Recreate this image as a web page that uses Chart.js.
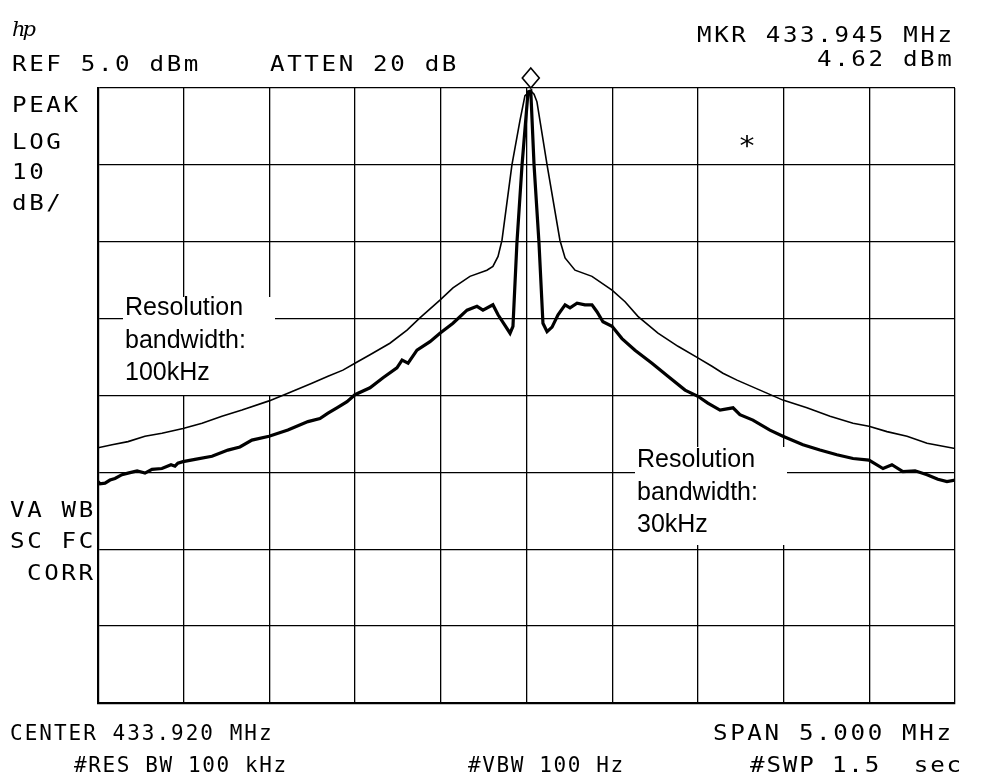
<!DOCTYPE html>
<html>
<head>
<meta charset="utf-8">
<script src="https://cdn.jsdelivr.net/npm/chart.js@4.4.1/dist/chart.umd.min.js"></script>
<style>
  html, body { margin: 0; padding: 0; background: #fff; }
  #wrap { position: relative; width: 981px; height: 783px; overflow: hidden; }
  #wrap canvas { position: absolute; left: 0; top: 0; }
  .t {
    position: absolute; font-family: "DejaVu Sans Mono", monospace; font-size: 21px;
    line-height: 21px; letter-spacing: 2.3px; color: #000; white-space: pre;
    transform: scaleX(1.15); transform-origin: 0 0;
  }
  .s { transform: none; letter-spacing: 1.6px; }
  .box { position: absolute; background: #fff; }
  .note {
    position: absolute; font-family: "Liberation Sans", Arial, sans-serif; font-size: 25px;
    line-height: 32.5px; color: #000; white-space: pre;
  }
</style>
</head>
<body>
<div id="wrap">
  <canvas id="spectrum"></canvas>

  <div class="t" style="left:12px;top:19px;font-family:'DejaVu Serif';font-style:italic;letter-spacing:-3px;font-size:21px;transform:none">hp</div>
  <div class="t" style="left:12px;top:54px">REF 5.0 dBm</div>
  <div class="t" style="left:270px;top:54px">ATTEN 20 dB</div>
  <div class="t" style="left:697px;top:25px">MKR 433.945 MHz</div>
  <div class="t" style="left:817px;top:49px">4.62 dBm</div>
  <div class="t" style="left:12px;top:95px">PEAK</div>
  <div class="t" style="left:12px;top:132px">LOG</div>
  <div class="t" style="left:12px;top:162px">10</div>
  <div class="t" style="left:12px;top:193px">dB/</div>
  <div class="t" style="left:10px;top:500px">VA WB</div>
  <div class="t" style="left:10px;top:531px">SC FC</div>
  <div class="t" style="left:27px;top:563px">CORR</div>
  <div class="t s" style="left:10px;top:723px;letter-spacing:2px">CENTER 433.920 MHz</div>
  <div class="t s" style="left:74px;top:755px">#RES BW 100 kHz</div>
  <div class="t s" style="left:468px;top:755px">#VBW 100 Hz</div>
  <div class="t" style="left:713px;top:723px">SPAN 5.000 MHz</div>
  <div class="t" style="left:750px;top:755px;letter-spacing:1.6px">#SWP 1.5  sec</div>
  <div class="t" style="left:738px;top:136px;font-size:26px">*</div>

  <div class="box" style="left:123px;top:297px;width:152px;height:98px"></div>
  <div class="note" style="left:125px;top:290px">Resolution
bandwidth:
100kHz</div>
  <div class="box" style="left:635px;top:447px;width:152px;height:98px"></div>
  <div class="note" style="left:637px;top:442px">Resolution
bandwidth:
30kHz</div>
</div>

<script>
// frequency axis (MHz): center 433.920, span 5 MHz, 10 divisions
const xTicks = [431.42, 431.92, 432.42, 432.92, 433.42, 433.92, 434.42, 434.92, 435.42, 435.92, 436.42];
// level axis (dBm): ref 5.0 dBm, 10 dB/div, 8 divisions
const yTicks = [-75, -65, -55, -45, -35, -25, -15, -5, 5];

// marker
const markerFreq = 433.945;
const markerLevel = 4.62;

// trace with 100 kHz resolution bandwidth
const rbw100Freq = [
  431.420, 431.502, 431.595, 431.694, 431.793, 431.916, 432.027, 432.143, 432.260, 432.418,
  432.528, 432.668, 432.762, 432.849, 432.919, 433.007, 433.123, 433.223, 433.298, 433.415,
  433.491, 433.590, 433.689, 433.724, 433.754, 433.777, 433.835, 433.882, 433.911, 433.945,
  433.964, 433.981, 434.040, 434.115, 434.145, 434.203, 434.302, 434.419, 434.495, 434.570,
  434.687, 434.804, 434.920, 435.002, 435.066, 435.148, 435.282, 435.416, 435.556, 435.691,
  435.825, 435.918, 436.023, 436.140, 436.257, 436.420
];
const rbw100Level = [
  -41.8, -41.4, -41.0, -40.3, -39.9, -39.3, -38.6, -37.7, -36.9, -35.7,
  -34.7, -33.4, -32.5, -31.7, -30.8, -29.7, -28.2, -26.5, -24.9, -22.6,
  -21.0, -19.5, -18.7, -18.2, -16.9, -14.8, -5.0, 0.8, 4.0, 4.62,
  4.2, 3.2, -5.0, -14.8, -17.1, -18.7, -19.5, -21.3, -22.8, -24.7,
  -26.9, -28.6, -30.1, -31.2, -32.1, -33.0, -34.3, -35.6, -36.6, -37.7,
  -38.6, -39.0, -39.7, -40.3, -41.2, -41.9
];

// trace with 30 kHz resolution bandwidth
const rbw30Freq = [
  431.420, 431.432, 431.461, 431.490, 431.519, 431.560, 431.595, 431.648, 431.694, 431.735,
  431.793, 431.846, 431.869, 431.886, 431.916, 431.986, 432.085, 432.178, 432.248, 432.318,
  432.418, 432.528, 432.645, 432.715, 432.762, 432.814, 432.873, 432.919, 433.007, 433.083,
  433.164, 433.194, 433.229, 433.281, 433.357, 433.415, 433.491, 433.573, 433.631, 433.666,
  433.724, 433.754, 433.824, 433.841, 433.864, 433.894, 433.929, 433.945, 433.964, 433.993,
  434.016, 434.040, 434.069, 434.104, 434.145, 434.174, 434.215, 434.261, 434.302, 434.331,
  434.366, 434.419, 434.477, 434.553, 434.652, 434.745, 434.845, 434.920, 434.978, 435.049,
  435.125, 435.165, 435.241, 435.340, 435.416, 435.533, 435.632, 435.731, 435.825, 435.918,
  436.000, 436.052, 436.116, 436.187, 436.257, 436.320, 436.373, 436.420
];
const rbw30Level = [
  -46.2, -46.5, -46.4, -46.0, -45.8, -45.3, -45.1, -44.8, -45.1, -44.6,
  -44.5, -44.0, -44.2, -43.8, -43.6, -43.3, -42.9, -42.1, -41.7, -40.8,
  -40.3, -39.5, -38.4, -38.0, -37.3, -36.6, -35.8, -34.9, -34.0, -32.7,
  -31.4, -30.4, -30.8, -29.1, -28.0, -26.9, -25.6, -23.9, -23.4, -23.9,
  -23.2, -24.5, -26.9, -26.0, -15.2, -5.0, 4.5, 4.62, -5.0, -15.2,
  -25.6, -26.7, -26.1, -24.5, -23.2, -23.6, -23.0, -23.2, -23.2, -24.1,
  -25.4, -26.0, -27.6, -29.1, -30.8, -32.5, -34.3, -35.1, -36.0, -36.9,
  -36.6, -37.5, -38.2, -39.5, -40.3, -41.4, -42.1, -42.7, -43.2, -43.4,
  -44.5, -44.0, -44.9, -44.8, -45.3, -45.9, -46.2, -46.0
];

const toPoints = (xs, ys) => xs.map((x, i) => ({ x: x, y: ys[i] }));

// diamond marker sitting on top of the peak
const markerPlugin = {
  id: 'markerDiamond',
  afterDraw(chart) {
    const c = chart.ctx;
    const px = chart.scales.x.getPixelForValue(markerFreq);
    const py = chart.scales.y.getPixelForValue(markerLevel) - 13;
    c.save();
    c.beginPath();
    c.moveTo(px, py - 10);
    c.lineTo(px + 8.5, py);
    c.lineTo(px, py + 10);
    c.lineTo(px - 8.5, py);
    c.closePath();
    c.fillStyle = '#fff';
    c.fill();
    c.lineWidth = 1.6;
    c.strokeStyle = '#000';
    c.stroke();
    c.restore();
  }
};

const ctx = document.getElementById('spectrum').getContext('2d');
new Chart(ctx, {
  type: 'line',
  data: {
    datasets: [{
      label: 'RBW 100 kHz',
      data: toPoints(rbw100Freq, rbw100Level),
      borderColor: '#000',
      borderWidth: 1.6,
      pointRadius: 0,
      tension: 0
    }, {
      label: 'RBW 30 kHz',
      data: toPoints(rbw30Freq, rbw30Level),
      borderColor: '#000',
      borderWidth: 3.2,
      pointRadius: 0,
      tension: 0
    }]
  },
  options: {
    responsive: true,
    maintainAspectRatio: false,
    animation: false,
    layout: { padding: { left: 98, top: 88, right: 26, bottom: 80 } },
    plugins: { legend: { display: false }, tooltip: { enabled: false } },
    scales: {
      x: {
        type: 'linear',
        min: xTicks[0],
        max: xTicks[xTicks.length - 1],
        afterBuildTicks: s => { s.ticks = xTicks.map(v => ({ value: v })); },
        ticks: { display: false },
        grid: { color: '#000', lineWidth: 1.3, drawTicks: false },
        border: { color: '#000', width: 2.2 }
      },
      y: {
        type: 'linear',
        min: yTicks[0],
        max: yTicks[yTicks.length - 1],
        afterBuildTicks: s => { s.ticks = yTicks.map(v => ({ value: v })); },
        ticks: { display: false },
        grid: { color: '#000', lineWidth: 1.3, drawTicks: false },
        border: { color: '#000', width: 2.2 }
      }
    }
  },
  plugins: [markerPlugin]
});
</script>
</body>
</html>
